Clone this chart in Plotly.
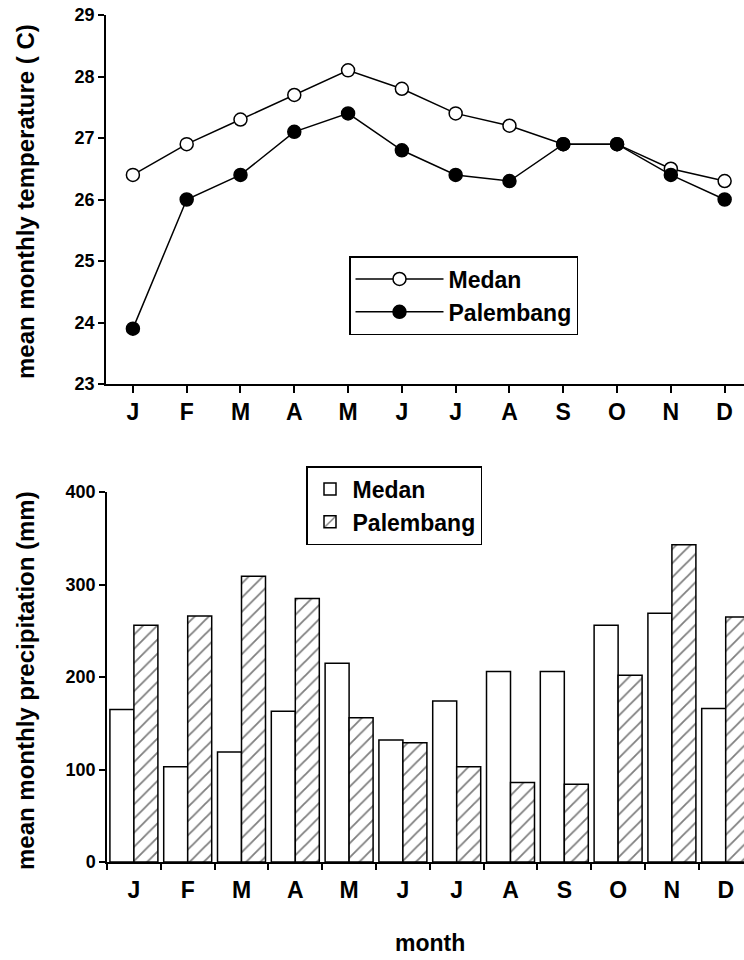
import plotly.graph_objects as go

months = ["J", "F", "M", "A", "M", "J", "J", "A", "S", "O", "N", "D"]
temp_medan = [26.4, 26.9, 27.3, 27.7, 28.1, 27.8, 27.4, 27.2, 26.9, 26.9, 26.5, 26.3]
temp_palembang = [23.9, 26.0, 26.4, 27.1, 27.4, 26.8, 26.4, 26.3, 26.9, 26.9, 26.4, 26.0]
prec_medan = [165, 103, 119, 163, 215, 132, 174, 206, 206, 256, 269, 166]
prec_palembang = [256, 266, 309, 285, 156, 129, 103, 86, 84, 202, 343, 265]
temp_ticks = [23, 24, 25, 26, 27, 28, 29]
prec_ticks = [0, 100, 200, 300, 400]

W, H = 744, 960
FONT = "Liberation Sans"
x = list(range(len(months)))

fig = go.Figure()

fig.add_trace(go.Scatter(
    x=x, y=temp_medan, name="Medan", mode="lines+markers",
    line=dict(color="black", width=1.5),
    marker=dict(symbol="circle", size=13, color="white", line=dict(color="black", width=1.5)),
    xaxis="x", yaxis="y", legend="legend"))
fig.add_trace(go.Scatter(
    x=x, y=temp_palembang, name="Palembang", mode="lines+markers",
    line=dict(color="black", width=1.5),
    marker=dict(symbol="circle", size=13, color="black", line=dict(color="black", width=1.5)),
    xaxis="x", yaxis="y", legend="legend"))

fig.add_trace(go.Bar(
    x=x, y=prec_medan, name="Medan",
    marker=dict(color="white", line=dict(color="black", width=1.5)),
    xaxis="x2", yaxis="y2", legend="legend2", offsetgroup="m"))
fig.add_trace(go.Bar(
    x=x, y=prec_palembang, name="Palembang",
    marker=dict(color="white", line=dict(color="black", width=1.5),
                pattern=dict(shape="/", size=10, solidity=0.18, fgcolor="black", bgcolor="white")),
    xaxis="x2", yaxis="y2", legend="legend2", offsetgroup="p"))

tickfont_x = dict(family=FONT, size=23, color="black", weight="bold")
tickfont_y = dict(family=FONT, size=18, color="black", weight="bold")
legend_font = dict(family=FONT, size=23, color="black", weight="bold")

fig.update_layout(
    width=W, height=H, autosize=False,
    margin=dict(l=0, r=0, t=0, b=0, pad=0, autoexpand=False),
    paper_bgcolor="white", plot_bgcolor="white",
    barmode="group", bargap=0.108, bargroupgap=0,
    font=dict(family=FONT, color="black"),
    xaxis=dict(domain=[106 / W, 1], range=[-0.5, 11.36], anchor="y",
               tickmode="array", tickvals=x, ticktext=months,
               ticks="outside", ticklen=7, tickwidth=1.5, tickcolor="black",
               showline=True, linecolor="black", linewidth=1.5,
               showgrid=False, zeroline=False, tickfont=tickfont_x),
    yaxis=dict(domain=[1 - 384 / H, 1 - 15 / H], range=[23, 29], anchor="x",
               tickmode="array", tickvals=temp_ticks,
               ticks="outside", ticklen=6, tickwidth=1.5, tickcolor="black",
               showline=True, linecolor="black", linewidth=1.5,
               showgrid=False, zeroline=False, tickfont=tickfont_y),
    xaxis2=dict(domain=[107 / W, 1], range=[-0.5, 11.34], anchor="y2",
                tickmode="array", tickvals=x, ticktext=months,
                ticks="outside", ticklen=7, tickcolor="rgba(0,0,0,0)",
                minor=dict(tick0=-0.5, dtick=1, ticks="outside", ticklen=6,
                           tickwidth=1.5, tickcolor="black", showgrid=False),
                showline=True, linecolor="black", linewidth=1.5,
                showgrid=False, zeroline=False, tickfont=tickfont_x),
    yaxis2=dict(domain=[1 - 862 / H, 1 - 492 / H], range=[0, 400], anchor="x2",
                tickmode="array", tickvals=prec_ticks,
                ticks="outside", ticklen=6, tickwidth=1.5, tickcolor="black",
                showline=True, linecolor="black", linewidth=1.5,
                showgrid=False, zeroline=False, tickfont=tickfont_y),
    legend=dict(x=349 / W, y=1 - 256 / H, xanchor="left", yanchor="top",
                bgcolor="white", bordercolor="black", borderwidth=1.5,
                itemwidth=88, tracegroupgap=0, font=legend_font),
    legend2=dict(x=306 / W, y=1 - 466 / H, xanchor="left", yanchor="top",
                 bgcolor="white", bordercolor="black", borderwidth=1.5,
                 itemwidth=35, tracegroupgap=0, font=legend_font),
    showlegend=True,
)

title_font = dict(family=FONT, size=24, color="black", weight="bold")
fig.add_annotation(text="mean monthly temperature ( C)", xref="paper", yref="paper",
                   x=25 / W, y=1 - 202 / H, textangle=-90, showarrow=False,
                   xanchor="center", yanchor="middle", font=title_font)
fig.add_annotation(text="mean monthly precipitation (mm)", xref="paper", yref="paper",
                   x=25 / W, y=1 - 681 / H, textangle=-90, showarrow=False,
                   xanchor="center", yanchor="middle", font=title_font)
fig.add_annotation(text="month", xref="paper", yref="paper",
                   x=430 / W, y=1 - 943 / H, showarrow=False,
                   xanchor="center", yanchor="middle",
                   font=dict(family=FONT, size=23, color="black", weight="bold"))

fig.write_html("out.html", config={"displayModeBar": False},
               post_script="document.body.style.margin='0';document.body.style.overflow='hidden';")
